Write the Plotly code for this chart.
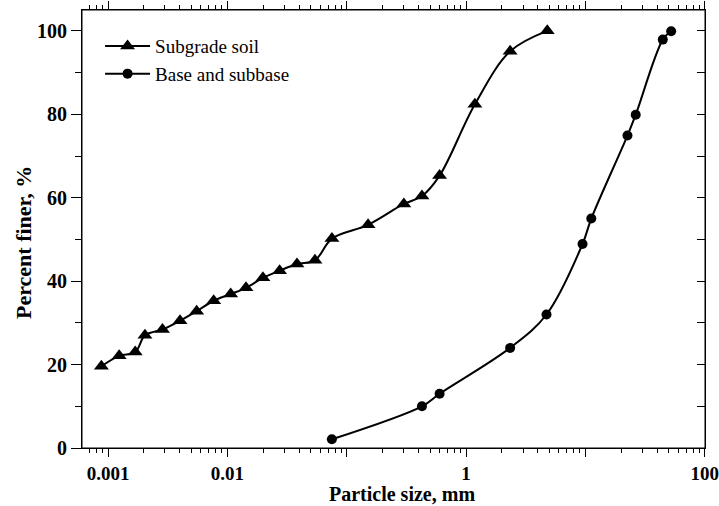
import numpy as np
import plotly.graph_objects as go

# Subgrade soil (triangles)
sub_x = [0.00088, 0.00124, 0.00169, 0.00204, 0.00286, 0.00401, 0.00553, 0.00768,
         0.01066, 0.01432, 0.01986, 0.0274, 0.0383, 0.0542, 0.0752, 0.151, 0.301,
         0.427, 0.600, 1.186, 2.34, 4.79]
sub_y = [19.6, 22.1, 23.0, 27.0, 28.4, 30.5, 32.8, 35.3, 36.9, 38.4, 40.8, 42.5,
         44.1, 45.0, 50.2, 53.5, 58.5, 60.4, 65.3, 82.4, 95.1, 100.0]

# Base and subbase (circles)
base_x = [0.0751, 0.427, 0.600, 2.34, 4.72, 9.46, 11.2, 22.5, 26.4, 44.5, 52.3]
base_y = [2.1, 10.0, 13.0, 24.0, 32.0, 48.9, 55.0, 74.9, 79.9, 97.9, 99.9]

x_tickvals = [0.001, 0.01, 0.1, 1, 10, 100]
x_ticktext = ["0.001", "0.01", "", "1", "", "100"]
y_tickvals = [0, 20, 40, 60, 80, 100]
y_minorvals = [10, 30, 50, 70, 90]
y_rightvals = list(range(0, 101, 10))

FONT = "Liberation Serif, Times New Roman, serif"
XR = [-3.218, 2.002]
YR = [0, 105]

minor_x = [float(m * 10.0 ** d) for d in range(-4, 2) for m in range(2, 10)]
minor_x = [v for v in minor_x if XR[0] <= np.log10(v) <= XR[1]]

fig = go.Figure()
fig.add_trace(go.Scatter(
    x=sub_x, y=sub_y, name="Subgrade soil", mode="lines+markers",
    line=dict(color="black", width=2, shape="spline", smoothing=1.0),
    marker=dict(symbol="triangle-up", size=13, color="black"),
))
fig.add_trace(go.Scatter(
    x=base_x, y=base_y, name="Base and subbase", mode="lines+markers",
    line=dict(color="black", width=2, shape="spline", smoothing=1.0),
    marker=dict(symbol="circle", size=10, color="black"),
))
# empty trace to activate the right-hand (inside) tick axis
fig.add_trace(go.Scatter(x=[None], y=[None], xaxis="x", yaxis="y2",
                         showlegend=False, hoverinfo="skip"))

fig.update_layout(
    width=719, height=506,
    margin=dict(l=82, r=14, t=10, b=58),
    paper_bgcolor="white", plot_bgcolor="white",
    font=dict(family=FONT, color="black"),
    showlegend=True,
    legend=dict(x=0.029, y=0.961, xanchor="left", yanchor="top",
                bgcolor="rgba(0,0,0,0)", font=dict(size=19, family=FONT),
                itemwidth=45, tracegroupgap=0),
    xaxis=dict(
        type="log", range=XR, automargin=False, showgrid=False, zeroline=False,
        showline=True, mirror="ticks", linecolor="black", linewidth=1,
        tickmode="array", tickvals=x_tickvals, ticktext=x_ticktext,
        ticks="outside", ticklen=8, tickcolor="black", tickwidth=1,
        ticklabeloverflow="allow",
        tickfont=dict(size=19, family=FONT, weight="bold"),
        minor=dict(tickmode="array", tickvals=minor_x, ticks="outside", ticklen=4,
                   tickcolor="black", showgrid=False),
    ),
    yaxis=dict(
        range=YR, automargin=False, showgrid=False, zeroline=False,
        showline=True, mirror=True, linecolor="black", linewidth=1,
        tickmode="array", tickvals=y_tickvals,
        ticks="outside", ticklen=10, tickcolor="black", tickwidth=1,
        ticklabeloverflow="allow",
        tickfont=dict(size=20, family=FONT, weight="bold"),
        minor=dict(tickmode="array", tickvals=y_minorvals, ticks="outside", ticklen=6,
                   tickcolor="black", showgrid=False),
    ),
    yaxis2=dict(
        range=YR, overlaying="y", anchor="x", side="right", automargin=False,
        showgrid=False, zeroline=False, showline=False, showticklabels=False,
        tickmode="array", tickvals=y_rightvals,
        ticks="inside", ticklen=8, tickcolor="black", tickwidth=1,
    ),
    shapes=[dict(type="rect", xref="paper", yref="paper", x0=0, y0=0, x1=1, y1=1,
                 line=dict(color="black", width=1), fillcolor="rgba(0,0,0,0)",
                 layer="above")],
    annotations=[
        dict(text="<b>Particle size, mm</b>", xref="paper", yref="paper",
             x=0.513, y=-0.105, xanchor="center", yanchor="middle",
             showarrow=False, font=dict(size=20, family=FONT)),
        dict(text="<b>Percent finer, %</b>", xref="paper", yref="paper",
             x=-0.0947, y=0.468, xanchor="center", yanchor="middle", textangle=-90,
             showarrow=False, font=dict(size=22, family=FONT)),
    ],
)

fig.write_html("out.html")
